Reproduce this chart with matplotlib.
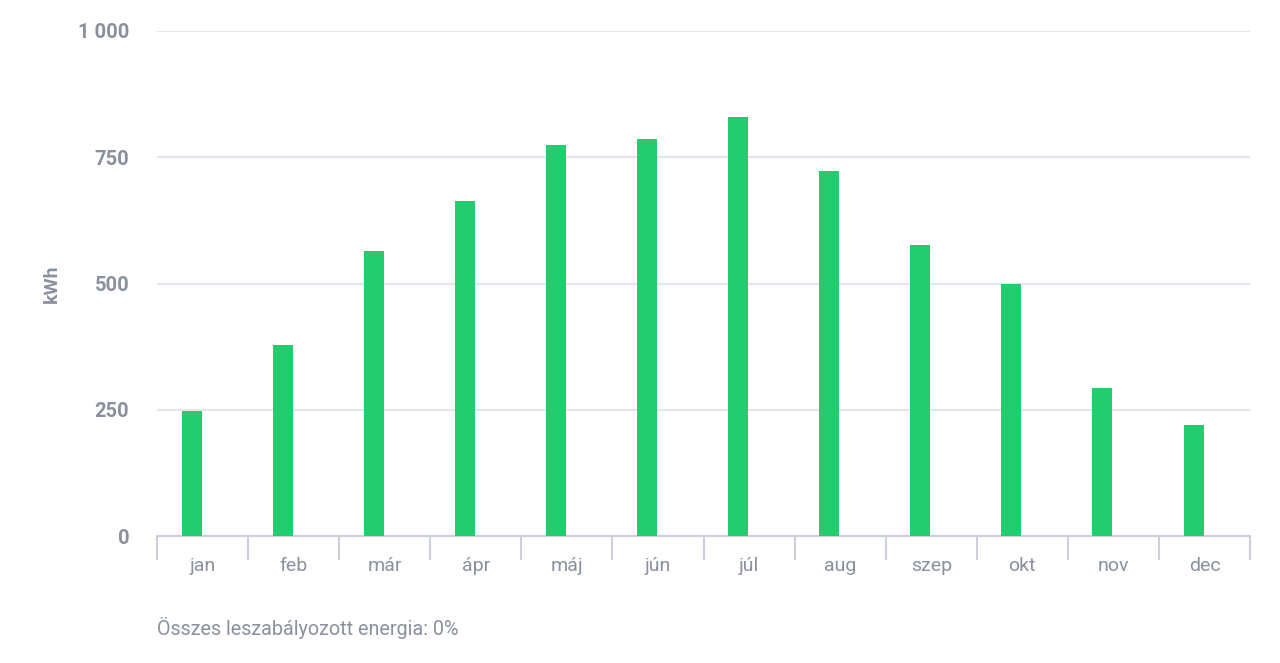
import matplotlib
matplotlib.use("Agg")
import matplotlib.pyplot as plt
import numpy as np

months = ["jan", "feb", "már", "ápr", "máj", "jún", "júl", "aug", "szep", "okt", "nov", "dec"]
values = [248, 378, 564, 663, 774, 786, 830, 723, 576, 499, 293, 219]
yticks = [0, 250, 500, 750, 1000]
ytick_labels = ["0", "250", "500", "750", "1 000"]
footer = "Összes leszabályozott energia: 0%"

plt.rcParams['font.family'] = ['Roboto', 'DejaVu Sans']
text_col = "#8a909e"
grid_col = "#e3e6ec"
axis_col = "#ccd0dc"
bar_col = "#22cc6f"

fig = plt.figure(figsize=(12.8, 6.63), dpi=100)
ax = fig.add_axes([157/1280, 1-536/663, (1250-157)/1280, (536-31)/663])

x = np.arange(len(months))
bar_w = 0.22
ax.bar(x - 0.12, values, width=bar_w, color=bar_col, zorder=3)

ax.set_xlim(-0.5, len(months)-0.5)
ax.set_ylim(0, 1000)
ax.set_yticks(yticks)
ax.set_yticklabels(ytick_labels, fontsize=14.5, fontweight='bold', color=text_col)
ax.tick_params(axis='y', length=0, pad=20)
ax.yaxis.grid(True, color=grid_col, linewidth=1.5, zorder=0)

ax.set_xticks(np.arange(-0.5, len(months), 1.0))
ax.set_xticklabels([])
ax.tick_params(axis='x', which='major', length=17, width=1.5, color=axis_col)
ax.set_xticks(x, minor=True)
ax.set_xticklabels(months, minor=True, fontsize=14, color=text_col)
ax.tick_params(axis='x', which='minor', length=0, pad=15)

for s in ['top', 'right', 'left']:
    ax.spines[s].set_visible(False)
ax.spines['bottom'].set_color(axis_col)
ax.spines['bottom'].set_linewidth(1.5)

ax.set_ylabel("kWh", fontsize=14, fontweight='bold', color=text_col)
ax.yaxis.set_label_coords((52-157)/1093, 0.5)
ax.yaxis.label.set_va('center')

fig.text(157/1280, 1-628/663, footer, fontsize=14.2, color=text_col, va='center', ha='left')

fig.savefig("out.png", dpi=100, facecolor='white')
